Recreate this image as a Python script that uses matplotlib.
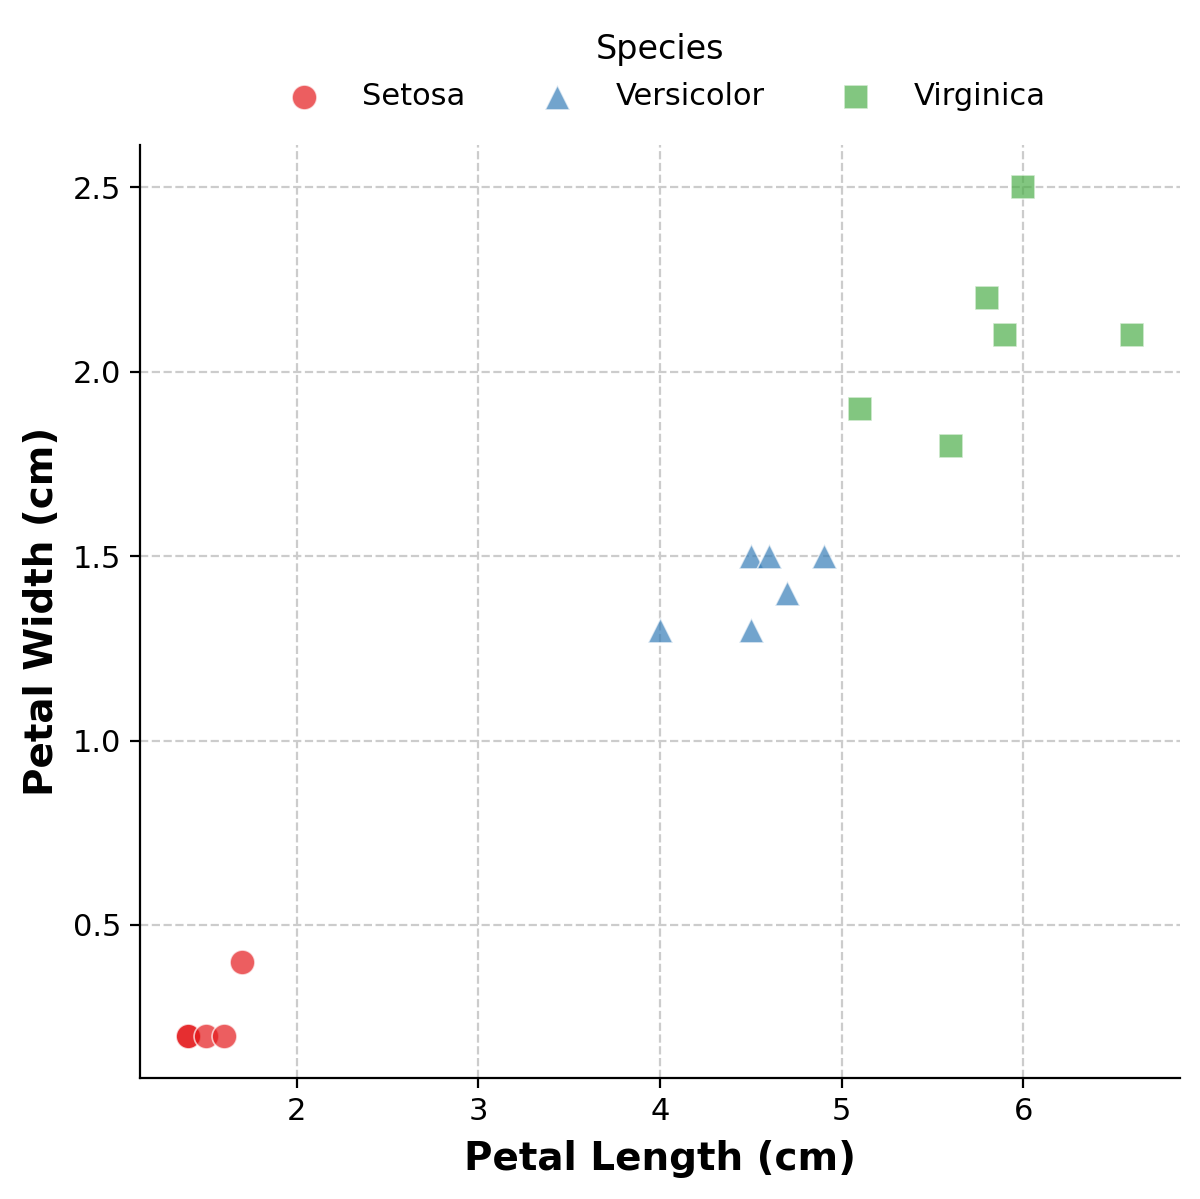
import matplotlib.pyplot as plt
import numpy as np

species = ["Setosa", "Versicolor", "Virginica"]
petal_length = {
    "Setosa": [1.4, 1.4, 1.5, 1.6, 1.7],
    "Versicolor": [4.0, 4.5, 4.6, 4.9, 4.7, 4.5],
    "Virginica": [6.0, 5.8, 5.9, 6.6, 5.1, 5.6],
}
petal_width = {
    "Setosa": [0.2, 0.2, 0.2, 0.2, 0.4],
    "Versicolor": [1.3, 1.5, 1.5, 1.5, 1.4, 1.3],
    "Virginica": [2.5, 2.2, 2.1, 2.1, 1.9, 1.8],
}
colors = ["#e41a1c", "#377eb8", "#4daf4a"]
markers = ["o", "^", "s"]

fig = plt.figure(figsize=(6, 5.995), dpi=200)
ax = fig.add_axes([0.117, 0.101, 0.866, 0.778])

for sp, c, m in zip(species, colors, markers):
    ax.scatter(petal_length[sp], petal_width[sp], s=80, c=c, marker=m,
               alpha=0.7, edgecolors="white", linewidths=0.6, label=sp,
               zorder=3)

ax.grid(True, linestyle="--", color="#cccccc", linewidth=0.8)
ax.set_axisbelow(True)
ax.spines["top"].set_visible(False)
ax.spines["right"].set_visible(False)

ax.set_yticks([0.5, 1.0, 1.5, 2.0, 2.5])
ax.set_xticks([2, 3, 4, 5, 6])
ax.tick_params(labelsize=11)

ax.set_xlabel("Petal Length (cm)", fontsize=14, fontweight="bold", labelpad=5)
ax.set_ylabel("Petal Width (cm)", fontsize=14, fontweight="bold")

ax.legend(title="Species", loc="lower center", bbox_to_anchor=(0.5, 1.0075),
          ncol=3, frameon=False, fontsize=11, title_fontsize=12,
          columnspacing=2.0, handletextpad=0.9)

fig.savefig("out.png", dpi=200)
